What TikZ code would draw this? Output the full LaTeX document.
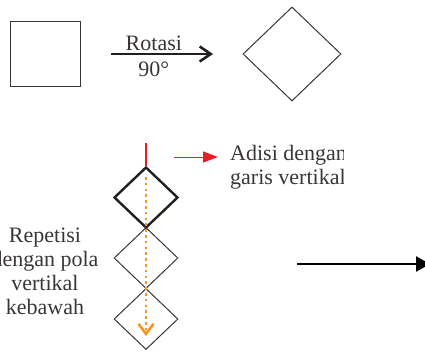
\documentclass[tikz,border=0pt]{standalone}
\usepackage{fontspec}
\setmainfont{Liberation Serif}
\usetikzlibrary{shapes.geometric,arrows.meta}
\definecolor{inkgrey}{HTML}{3A3536}
\definecolor{inkdark}{HTML}{231F20}
\definecolor{addred}{HTML}{ED1C24}
\definecolor{reporange}{HTML}{F7941D}

\begin{document}
\begin{tikzpicture}[
	x=1pt, y=-1pt,
	line join=miter,
	label text/.style={font=\fontsize{22}{24}\selectfont, text=inkgrey, inner sep=0pt},
	shape line/.style={draw=inkgrey, line width=1pt, inner sep=0pt},
	motif/.style={diamond, shape line, minimum width=64pt, minimum height=61pt},
	motif bold/.style={motif, draw=inkdark, line width=2.4pt}
]
	\useasboundingbox (0,0) rectangle (425,351);
	\clip (0,0) rectangle (425,351);

	% Rotation of the square
	\node[shape line, minimum width=70pt, minimum height=65pt] (square) at (45,53.5) {};
	\node[diamond, shape line, minimum width=98pt, minimum height=94pt] (turned) at (292,54) {};
	\coordinate (rotstart) at (111,54);
	\coordinate (rotend) at (213,54);
	\draw[inkdark, line width=2.6pt, -{Straight Barb[length=11pt,width=15pt]}]
	(rotstart) -- node[pos=0.42, label text, anchor=south, yshift=1.5pt] (rotlabel) {Rotasi}
	node[pos=0.42, label text, anchor=north, yshift=-7pt] (anglelabel) {90°} (rotend);

	% Motif stacked downwards
	\node[motif bold] (motifa) at (146,197.5) {};
	\node[motif] (motifb) at (146,258) {};
	\node[motif] (motifc) at (146,319) {};

	% Added vertical line
	\coordinate (stemtop) at (146,143);
	\draw[addred, line width=2pt] (stemtop) -- (motifa.north);
	\coordinate (addstart) at (174,157);
	\coordinate (addend) at (218,157);
	\draw[addred, line width=1pt, -{Triangle[length=15pt,width=11pt]}] (addstart) -- (addend);
	\begin{scope}
		\clip (0,0) rectangle (343,351);
		\node[label text, align=left, anchor=west] (addlabel) at (230,167) {Adisi dengan\\garis vertikal};
	\end{scope}

	% Repetition downwards
	\coordinate (repstart) at (146,177);
	\coordinate (repend) at (146,336);
	\draw[reporange, line width=2.6pt, dash pattern=on 2.6pt off 3.2pt,
	-{Straight Barb[length=10pt,width=15pt]}] (repstart) -- (repend);
	\node[label text, align=center] (replabel) at (45,271) {Repetisi\\dengan pola\\vertikal\\kebawah};

	% Next step
	\coordinate (nextstart) at (297,264);
	\coordinate (nextend) at (430,264);
	\draw[black, line width=2.6pt, -{Triangle[length=14pt,width=15pt]}] (nextstart) -- (nextend);
\end{tikzpicture}
\end{document}
